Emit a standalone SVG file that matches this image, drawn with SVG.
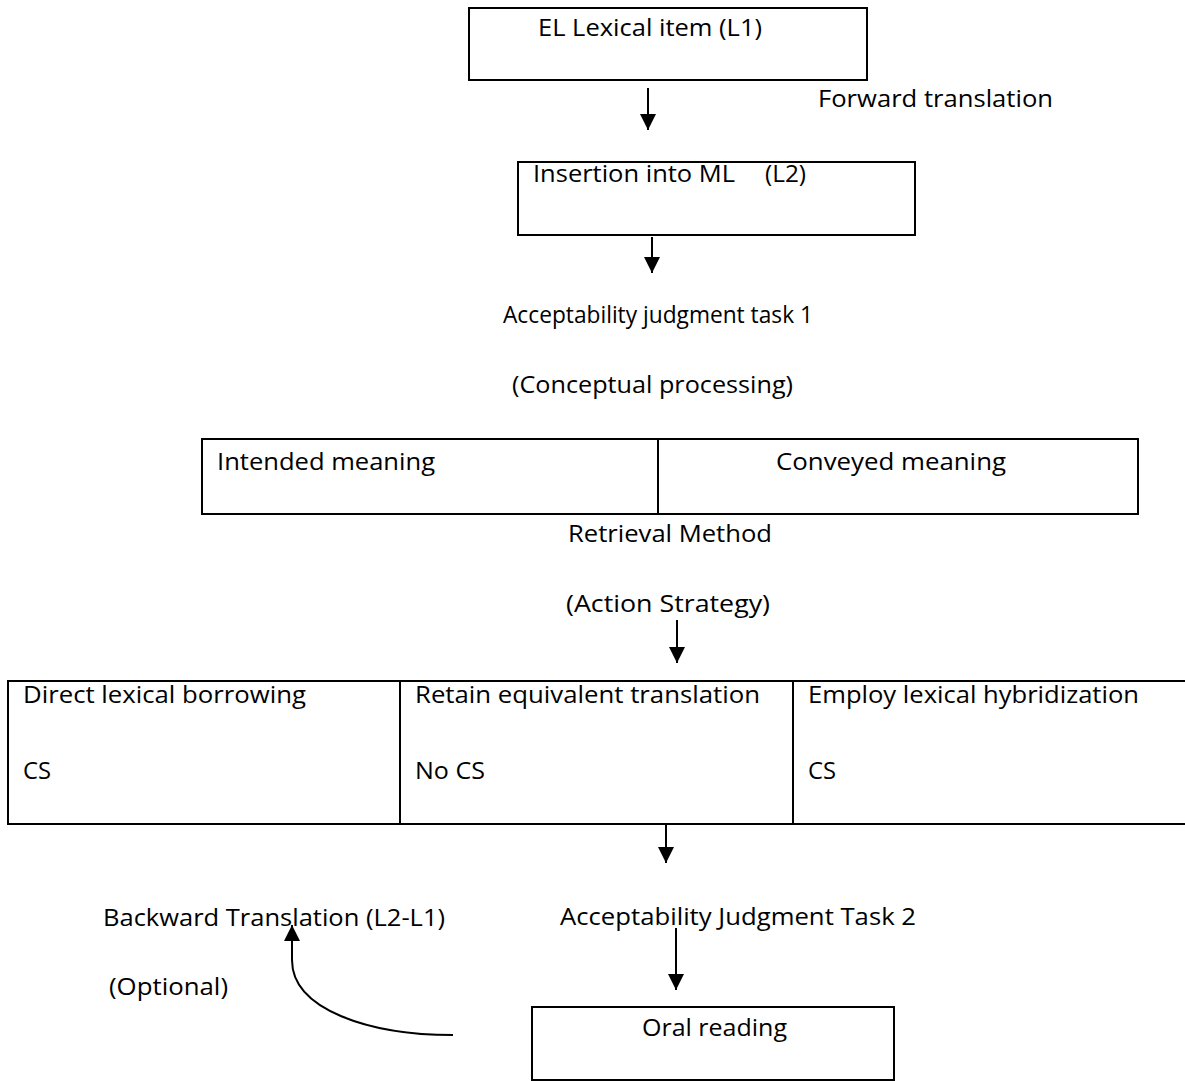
<svg xmlns="http://www.w3.org/2000/svg" width="1185" height="1081" viewBox="0 0 1185 1081">
<defs>
<style>
text{font-family:"Open Sans","Liberation Sans",sans-serif;font-size:24px;fill:#000}
.box{fill:none;stroke:#000;stroke-width:2}
.ln{fill:none;stroke:#000;stroke-width:2}
.conn{fill:none;stroke:#000;stroke-width:2}
</style>
<marker id="ah" markerUnits="userSpaceOnUse" markerWidth="16" markerHeight="16" viewBox="0 0 16 16" refX="16" refY="8" orient="auto">
<path d="M0,0 L16,8 L0,16 z" fill="#000"/>
</marker>
</defs>
<rect width="1185" height="1081" fill="#fff"/>

<g id="node-el-lexical">
<rect class="box" x="469" y="8" width="398" height="72"/>
<text x="538" y="36" textLength="224" lengthAdjust="spacingAndGlyphs">EL Lexical item (L1)</text>
</g>

<g id="label-forward">
<text x="818" y="107" textLength="235" lengthAdjust="spacingAndGlyphs">Forward translation</text>
</g>

<g id="node-insertion">
<rect class="box" x="518" y="162" width="397" height="73"/>
<text x="533" y="182" textLength="202" lengthAdjust="spacingAndGlyphs">Insertion into ML</text>
<text x="765" y="182" textLength="41" lengthAdjust="spacingAndGlyphs">(L2)</text>
</g>

<g id="label-ajt1">
<text x="503" y="323" textLength="310" lengthAdjust="spacingAndGlyphs">Acceptability judgment task 1</text>
<text x="512" y="393" textLength="281" lengthAdjust="spacingAndGlyphs">(Conceptual processing)</text>
</g>

<g id="node-meaning">
<rect class="box" x="202" y="439" width="936" height="75"/>
<line class="ln" x1="658" y1="439" x2="658" y2="514"/>
<text x="217" y="470" textLength="218" lengthAdjust="spacingAndGlyphs">Intended meaning</text>
<text x="776" y="470" textLength="230" lengthAdjust="spacingAndGlyphs">Conveyed meaning</text>
</g>

<g id="label-retrieval">
<text x="568" y="542" textLength="204" lengthAdjust="spacingAndGlyphs">Retrieval Method</text>
<text x="566" y="612" textLength="204" lengthAdjust="spacingAndGlyphs">(Action Strategy)</text>
</g>

<g id="node-strategies">
<rect class="box" x="8" y="681" width="1180" height="143"/>
<line class="ln" x1="400" y1="681" x2="400" y2="824"/>
<line class="ln" x1="793" y1="681" x2="793" y2="824"/>
<text x="23" y="703" textLength="283" lengthAdjust="spacingAndGlyphs">Direct lexical borrowing</text>
<text x="23" y="779" textLength="28" lengthAdjust="spacingAndGlyphs">CS</text>
<text x="415" y="703" textLength="345" lengthAdjust="spacingAndGlyphs">Retain equivalent translation</text>
<text x="415" y="779" textLength="70" lengthAdjust="spacingAndGlyphs">No CS</text>
<text x="808" y="703" textLength="331" lengthAdjust="spacingAndGlyphs">Employ lexical hybridization</text>
<text x="808" y="779" textLength="28" lengthAdjust="spacingAndGlyphs">CS</text>
</g>

<g id="label-backward">
<text x="103" y="926" textLength="342" lengthAdjust="spacingAndGlyphs">Backward Translation (L2-L1)</text>
<text x="109" y="995" textLength="119" lengthAdjust="spacingAndGlyphs">(Optional)</text>
</g>

<g id="label-ajt2">
<text x="560" y="925" textLength="356" lengthAdjust="spacingAndGlyphs">Acceptability Judgment Task 2</text>
</g>

<g id="node-oral">
<rect class="box" x="532" y="1007" width="362" height="73"/>
<text x="642" y="1036" textLength="145" lengthAdjust="spacingAndGlyphs">Oral reading</text>
</g>

<g id="connectors">
<line class="conn" x1="648" y1="88" x2="648" y2="130" marker-end="url(#ah)"/>
<line class="conn" x1="652" y1="237" x2="652" y2="273" marker-end="url(#ah)"/>
<line class="conn" x1="677" y1="620" x2="677" y2="663" marker-end="url(#ah)"/>
<line class="conn" x1="666" y1="825" x2="666" y2="863" marker-end="url(#ah)"/>
<line class="conn" x1="676" y1="928" x2="676" y2="990" marker-end="url(#ah)"/>
<path class="conn" d="M453,1035 C370,1035 292,1010 292,960 L292,925" stroke-width="1.6" marker-end="url(#ah)"/>
</g>
</svg>
